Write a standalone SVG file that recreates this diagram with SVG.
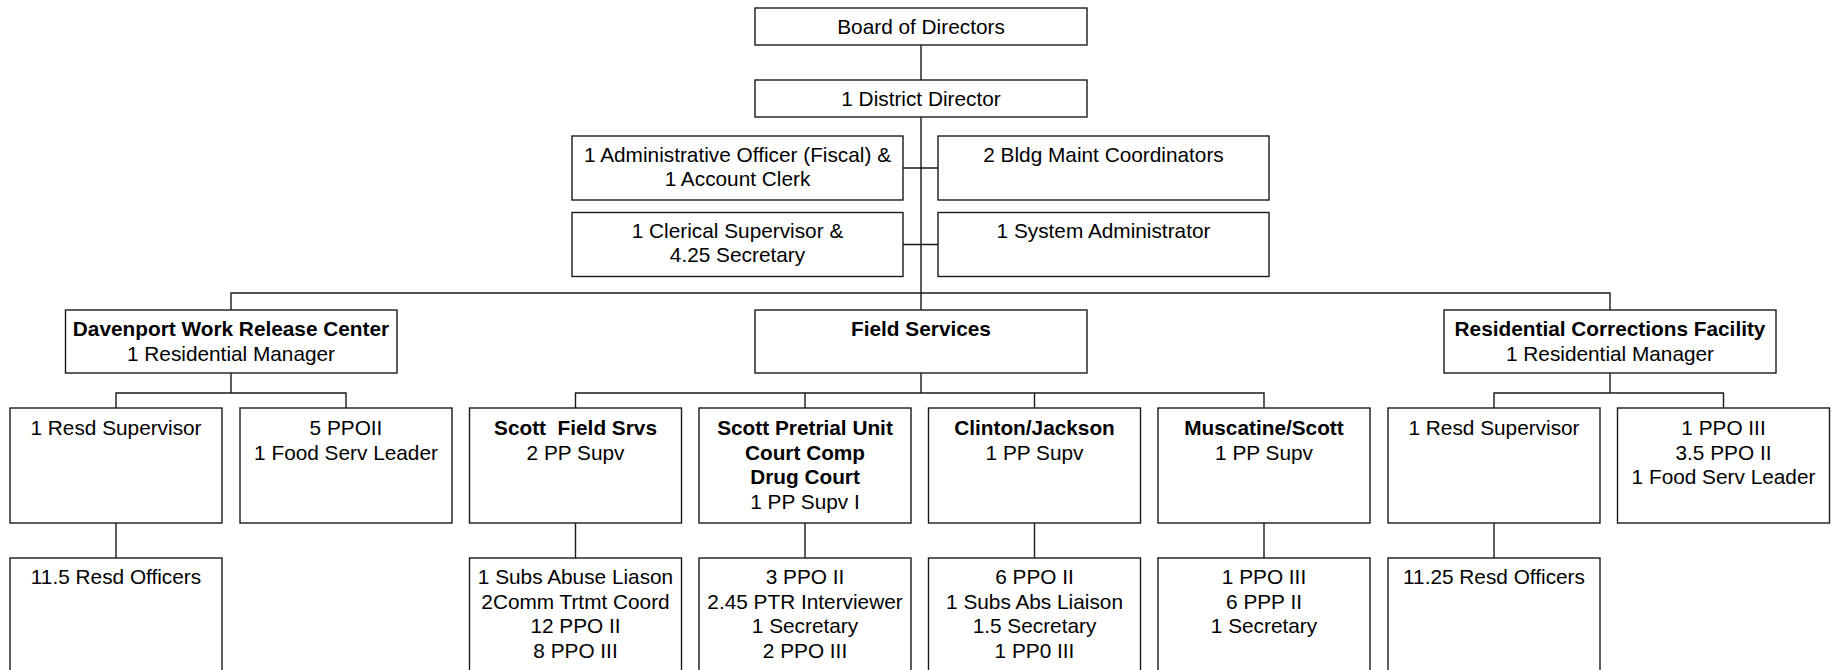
<svg xmlns="http://www.w3.org/2000/svg" width="1835" height="670" viewBox="0 0 1835 670">
<style>
.box{fill:#fff;stroke:#1a1a1a;stroke-width:1.4}
.ln{fill:none;stroke:#1a1a1a;stroke-width:1.4}
text{font-family:"Liberation Sans",Arial,sans-serif;font-size:20.8px;fill:#000;text-anchor:middle}
.b{font-weight:bold}
</style>
<rect width="1835" height="670" fill="#fff"/>
<g id="connectors">
<path class="ln" d="M921 45V80M921 117V293M903 168H938M903 244.5H938"/>
<path class="ln" d="M231 310V293H1610V310M921 293V310"/>
<path class="ln" d="M231 373V393M116 408V393H346V408"/>
<path class="ln" d="M921 373V393M575.5 408V393H1264V408M805 393V408M1034.5 393V408"/>
<path class="ln" d="M1610 373V393M1494 408V393H1723.5V408"/>
<path class="ln" d="M116 523V558M575.5 523V558M805 523V558M1034.5 523V558M1264 523V558M1494 523V558"/>
</g>
<g id="board"><rect class="box" x="755" y="8" width="332" height="37"/><text x="921" y="33.5">Board of Directors</text></g>
<g id="director"><rect class="box" x="755" y="80" width="332" height="37"/><text x="921" y="106">1 District Director</text></g>
<g id="admin"><rect class="box" x="572" y="136" width="331" height="64"/><text x="737.5" y="161.5">1 Administrative Officer (Fiscal) &amp;</text><text x="737.5" y="186">1 Account Clerk</text></g>
<g id="bldg"><rect class="box" x="938" y="136" width="331" height="64"/><text x="1103.5" y="161.5">2 Bldg Maint Coordinators</text></g>
<g id="clerical"><rect class="box" x="572" y="212.5" width="331" height="64"/><text x="737.5" y="238">1 Clerical Supervisor &amp;</text><text x="737.5" y="262">4.25 Secretary</text></g>
<g id="sysadmin"><rect class="box" x="938" y="212.5" width="331" height="64"/><text x="1103.5" y="238">1 System Administrator</text></g>
<g id="davenport"><rect class="box" x="65.5" y="310" width="331.5" height="63"/><text class="b" x="231" y="336">Davenport Work Release Center</text><text x="231" y="360.5">1 Residential Manager</text></g>
<g id="field"><rect class="box" x="755" y="310" width="332" height="63"/><text class="b" x="921" y="336">Field Services</text></g>
<g id="rcf"><rect class="box" x="1444" y="310" width="332" height="63"/><text class="b" x="1610" y="336">Residential Corrections Facility</text><text x="1610" y="360.5">1 Residential Manager</text></g>
<g id="d-resd"><rect class="box" x="10" y="408" width="212" height="115"/><text x="116" y="435">1 Resd Supervisor</text></g>
<g id="d-ppo"><rect class="box" x="240" y="408" width="212" height="115"/><text x="346" y="435">5 PPOII</text><text x="346" y="459.5">1 Food Serv Leader</text></g>
<g id="scott"><rect class="box" x="469.5" y="408" width="212" height="115"/><text class="b" x="575.5" y="435" style="white-space:pre">Scott  Field Srvs</text><text x="575.5" y="459.5">2 PP Supv</text></g>
<g id="pretrial"><rect class="box" x="699" y="408" width="212" height="115"/><text class="b" x="805" y="435">Scott Pretrial Unit</text><text class="b" x="805" y="459.5">Court Comp</text><text class="b" x="805" y="484">Drug Court</text><text x="805" y="508.5">1 PP Supv I</text></g>
<g id="clinton"><rect class="box" x="928.5" y="408" width="212" height="115"/><text class="b" x="1034.5" y="435">Clinton/Jackson</text><text x="1034.5" y="459.5">1 PP Supv</text></g>
<g id="muscatine"><rect class="box" x="1158" y="408" width="212" height="115"/><text class="b" x="1264" y="435">Muscatine/Scott</text><text x="1264" y="459.5">1 PP Supv</text></g>
<g id="r-resd"><rect class="box" x="1388" y="408" width="212" height="115"/><text x="1494" y="435">1 Resd Supervisor</text></g>
<g id="r-ppo"><rect class="box" x="1617.5" y="408" width="212" height="115"/><text x="1723.5" y="435">1 PPO III</text><text x="1723.5" y="459.5">3.5 PPO II</text><text x="1723.5" y="484">1 Food Serv Leader</text></g>
<g id="d-officers"><rect class="box" x="10" y="558" width="212" height="130"/><text x="116" y="584">11.5 Resd Officers</text></g>
<g id="scott-staff"><rect class="box" x="469.5" y="558" width="212" height="130"/><text x="575.5" y="584">1 Subs Abuse Liason</text><text x="575.5" y="608.5">2Comm Trtmt Coord</text><text x="575.5" y="633">12 PPO II</text><text x="575.5" y="657.5">8 PPO III</text></g>
<g id="pretrial-staff"><rect class="box" x="699" y="558" width="212" height="130"/><text x="805" y="584">3 PPO II</text><text x="805" y="608.5">2.45 PTR Interviewer</text><text x="805" y="633">1 Secretary</text><text x="805" y="657.5">2 PPO III</text></g>
<g id="clinton-staff"><rect class="box" x="928.5" y="558" width="212" height="130"/><text x="1034.5" y="584">6 PPO II</text><text x="1034.5" y="608.5">1 Subs Abs Liaison</text><text x="1034.5" y="633">1.5 Secretary</text><text x="1034.5" y="657.5">1 PP0 III</text></g>
<g id="muscatine-staff"><rect class="box" x="1158" y="558" width="212" height="130"/><text x="1264" y="584">1 PPO III</text><text x="1264" y="608.5">6 PPP II</text><text x="1264" y="633">1 Secretary</text></g>
<g id="r-officers"><rect class="box" x="1388" y="558" width="212" height="130"/><text x="1494" y="584">11.25 Resd Officers</text></g>
</svg>
